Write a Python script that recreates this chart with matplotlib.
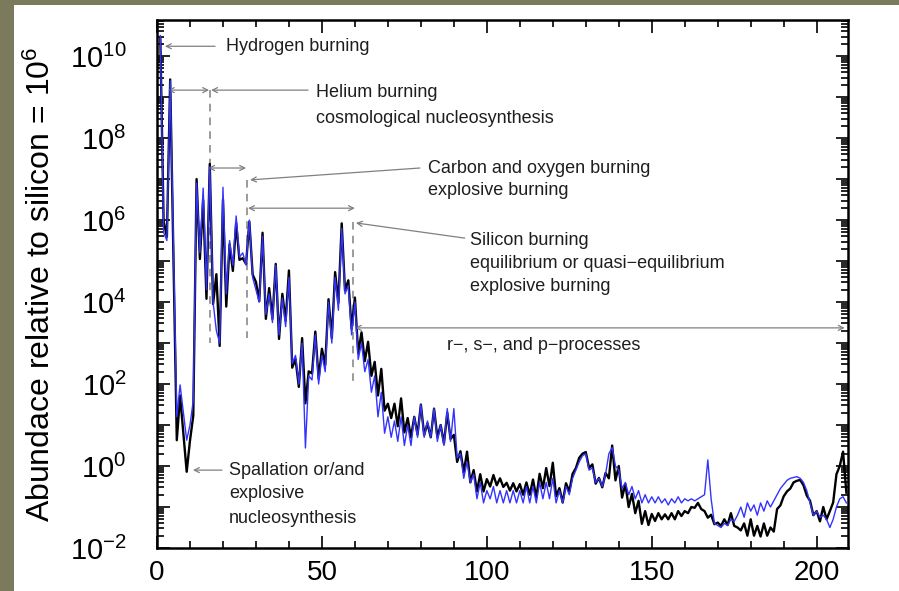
import numpy as np
import matplotlib
matplotlib.use('Agg')
import matplotlib.pyplot as plt
from matplotlib.patches import Rectangle
from matplotlib.ticker import LogLocator, FuncFormatter, MultipleLocator, NullFormatter

plt.rcParams['font.family'] = ['Liberation Sans', 'DejaVu Sans']
plt.rcParams['mathtext.fontset'] = 'custom'
plt.rcParams['mathtext.rm'] = 'Liberation Sans'

# mass numbers (no stable nuclei at A=5 and A=8)
mass_number = [1, 2, 3, 4, 6, 7] + list(range(9, 210))

# log10 abundance, black curve
black_log = [
    10.45, 5.98, 5.59, 9.43,
    0.63, 1.72,
    -0.14, 0.62,
    1.23, 7.0, 5.05, 6.49, 4.08, 7.37, 3.95, 4.68, 2.93, 6.5,
    3.89, 5.41, 4.76, 5.93, 5.03, 5.07, 4.93, 5.96, 4.67, 4.49,
    4.02, 5.69, 3.59, 4.34, 3.59, 4.93, 3.1, 4.2, 3.54, 4.77,
    2.4, 2.61, 1.93, 3.12, 1.53, 2.31, 2.26, 3.28, 2.13, 2.86,
    2.46, 4.07, 3.12, 4.73, 3.98, 5.92, 4.28, 4.53, 3.35, 4.11,
    2.75, 3.26, 2.56, 3.03, 2.2, 2.54, 1.72, 2.37, 1.35, 1.52,
    1.17, 1.52, 0.97, 1.65, 0.82, 1.17, 0.7, 1.2, 0.77, 1.5,
    0.76, 1.04, 0.7, 1.4, 0.7, 1.0, 0.55, 1.3, 0.66, 0.76,
    0.1, 0.36, -0.15, 0.35, -0.4, -0.1, -0.62, -0.2, -0.62, -0.32,
    -0.5, -0.22, -0.47, -0.3, -0.51, -0.41, -0.6, -0.42, -0.62, -0.44,
    -0.7, -0.4, -0.7, -0.33, -0.77, -0.19, -0.54, -0.05, -0.49, 0.08,
    -0.74, -0.54, -0.89, -0.42, -0.62, -0.19, -0.05, 0.2, 0.3, 0.34,
    -0.05, 0.04, -0.43, -0.29, -0.52, -0.17, -0.3, 0.5, -0.35, 0.0,
    -0.77, -0.44, -1.0, -0.68, -1.15, -0.85, -1.41, -1.1, -1.44, -1.17,
    -1.34, -1.15, -1.3, -1.18, -1.3, -1.15, -1.3, -1.1, -1.22, -1.1,
    -1.15, -1.0, -1.02, -0.9, -1.05, -1.1, -1.26, -1.19, -1.42, -1.38,
    -1.46, -1.3, -1.44, -1.15, -1.46, -1.5, -1.57, -1.4, -1.7, -1.3,
    -1.7, -1.46, -1.72, -1.4, -1.7, -1.5, -1.6, -1.05, -0.96, -0.74,
    -0.62, -0.55, -0.4, -0.36, -0.34, -0.47, -0.72, -0.85, -1.2, -1.1,
    -1.35, -1.0, -1.3, -1.1, -0.89, -0.2, 0.0, 0.35, -0.65,
]

# log10 abundance, blue curve
blue_log = [
    10.5, 5.7, 5.5, 9.4,
    1.2, 1.98,
    0.63, 1.0,
    1.6, 6.9, 5.2, 6.78, 4.3, 7.3, 4.0, 3.3, 3.0, 6.8,
    4.2, 5.5, 4.9, 6.1, 5.1, 5.2, 4.9, 6.0, 4.6, 4.3,
    4.0, 5.6, 3.7, 4.2, 3.5, 4.9, 3.2, 4.1, 3.4, 4.6,
    2.5, 2.7, 2.0, 3.0, 0.44, 2.2, 2.1, 3.2, 2.0, 2.7,
    2.3, 4.0, 3.0, 4.6, 3.8, 5.8, 4.2, 4.4, 3.2, 4.0,
    2.6, 3.0, 2.3, 2.6, 1.8, 2.2, 1.2, 1.8, 0.8, 1.2,
    0.7, 1.1, 0.6, 1.2, 0.5, 1.0, 0.5, 1.2, 0.7, 1.5,
    0.7, 1.1, 0.7, 1.4, 0.6, 1.0, 0.5, 1.4, 0.6, 1.4,
    0.2, 0.3, -0.3, 0.1, -0.4, -0.2, -0.8, -0.4, -0.9, -0.6,
    -0.8, -0.5, -0.9, -0.6, -0.9, -0.6, -0.9, -0.6, -0.9, -0.6,
    -0.9, -0.5, -0.9, -0.5, -0.9, -0.4, -0.8, -0.4, -0.8, -0.3,
    -0.9, -0.6, -0.9, -0.5, -0.7, -0.3, -0.1, 0.1, 0.25, 0.3,
    -0.1, -0.05, -0.4, -0.3, -0.5, -0.2, 0.3, 0.45, 0.0, -0.1,
    -0.55, -0.4, -0.7, -0.5, -0.8, -0.6, -0.9, -0.7, -0.9, -0.75,
    -0.9, -0.75, -0.9, -0.8, -0.95, -0.8, -0.9, -0.75, -0.9, -0.8,
    -0.85, -0.8, -0.85, -0.8, -0.75, -0.7, 0.15, -0.8, -1.4, -1.45,
    -1.5, -1.4, -1.45, -1.3, -1.35, -1.2, -1.0, -1.25, -0.9, -1.1,
    -0.95, -1.2, -0.9, -1.1, -0.85, -1.0, -0.85, -0.7, -0.55, -0.45,
    -0.35, -0.3, -0.28, -0.26, -0.3, -0.4, -0.6, -0.9, -1.2, -1.1,
    -1.25, -1.2, -1.3, -1.5, -1.3, -1.0, -0.8, -0.75, -0.9,
]

black = np.power(10.0, black_log)
blue = np.power(10.0, blue_log)

fig = plt.figure(figsize=(8.99, 5.91), dpi=100, facecolor='#7b7a5d')
# white slide area behind the axes
slide = Rectangle((14 / 899, 0), 1, 1 - 5 / 591, transform=fig.transFigure,
                  facecolor='white', edgecolor='none', zorder=-10)
fig.add_artist(slide)

ax = fig.add_axes([157 / 899, 1 - 548 / 591, 691 / 899, 528 / 591])
ax.set_facecolor('white')

ax.plot(mass_number, black, color='black', lw=1.7, zorder=3)
ax.plot(mass_number, blue, color='#3333ff', lw=1.0, zorder=4)

ax.set_yscale('log')
ax.set_xlim(0, 209.5)
ax.set_ylim(1e-2, 7.6e10)

# ticks
ax.xaxis.set_major_locator(MultipleLocator(50))
ax.xaxis.set_minor_locator(MultipleLocator(10))
ax.yaxis.set_major_locator(LogLocator(base=10, numticks=30))
ax.yaxis.set_minor_locator(LogLocator(base=10, subs=np.arange(2, 10), numticks=300))
ax.yaxis.set_minor_formatter(NullFormatter())


def exp_label(v, pos):
    e = int(round(np.log10(v)))
    if e % 2:
        return ''
    return '$\\mathdefault{10^{%d}}$' % e


ax.yaxis.set_major_formatter(FuncFormatter(exp_label))
ax.tick_params(which='both', direction='in', top=True, right=True, width=1.2, color='black')
ax.tick_params(which='major', length=9)
ax.tick_params(which='minor', length=5)
ax.tick_params(axis='x', labelsize=20, pad=9)
ax.tick_params(axis='y', labelsize=21, pad=22)
for sp in ax.spines.values():
    sp.set_linewidth(1.8)

ax.set_ylabel('Abundace relative to silicon = $\\mathdefault{10^6}$', fontsize=23)
ax.yaxis.set_label_coords(-0.145, 0.5)

# annotations
ann_color = '#808080'
txt_color = '#1e1e1e'
fs = 13


def arrow(x0, y0, x1, y1, style='->'):
    ax.annotate('', xy=(x1, y1), xytext=(x0, y0),
                arrowprops=dict(arrowstyle=style, color=ann_color, lw=0.9,
                                shrinkA=0, shrinkB=0, mutation_scale=9))


def vdash(x, y0, y1):
    ax.plot([x, x], [y0, y1], color=ann_color, lw=1.1, ls=(0, (5, 4)), zorder=2)


def label(x, y, s):
    ax.text(x, y, s, fontsize=fs, color=txt_color, ha='left', va='center')


# hydrogen
arrow(17.6, 10**10.24, 2.4, 10**10.24)
label(20.9, 10**10.24, 'Hydrogen burning')

# helium
arrow(3.3, 10**9.17, 15.8, 10**9.17, '<->')
arrow(45.8, 10**9.17, 16.4, 10**9.17)
vdash(16.0, 10**9.17, 10**3.0)
label(48.2, 10**9.1, 'Helium burning')
label(48.2, 10**8.49, 'cosmological nucleosynthesis')

# carbon and oxygen
arrow(15.5, 10**7.27, 27.0, 10**7.27, '<->')
arrow(79.7, 10**7.27, 28.2, 10**6.98)
vdash(27.3, 10**6.98, 10**3.12)
label(82.1, 10**7.27, 'Carbon and oxygen burning')
label(82.1, 10**6.71, 'explosive burning')

# silicon
arrow(27.6, 10**6.29, 60.0, 10**6.29, '<->')
arrow(93.3, 10**5.56, 60.3, 10**5.93)
vdash(59.4, 10**5.95, 10**1.98)
label(94.8, 10**5.51, 'Silicon burning')
label(94.8, 10**4.93, 'equilibrium or quasi\u2212equilibrium')
label(94.8, 10**4.37, 'explosive burning')

# r-, s-, p-processes
arrow(60.0, 10**3.37, 208.5, 10**3.37, '<->')
label(87.9, 10**2.93, 'r\u2212, s\u2212, and p\u2212processes')

# spallation
arrow(19.7, 10**-0.1, 10.9, 10**-0.1)
label(21.8, 10**-0.1, 'Spallation or/and')
label(21.8, 10**-0.68, 'explosive')
label(21.8, 10**-1.29, 'nucleosynthesis')

fig.savefig('out.png', dpi=100, facecolor=fig.get_facecolor())
